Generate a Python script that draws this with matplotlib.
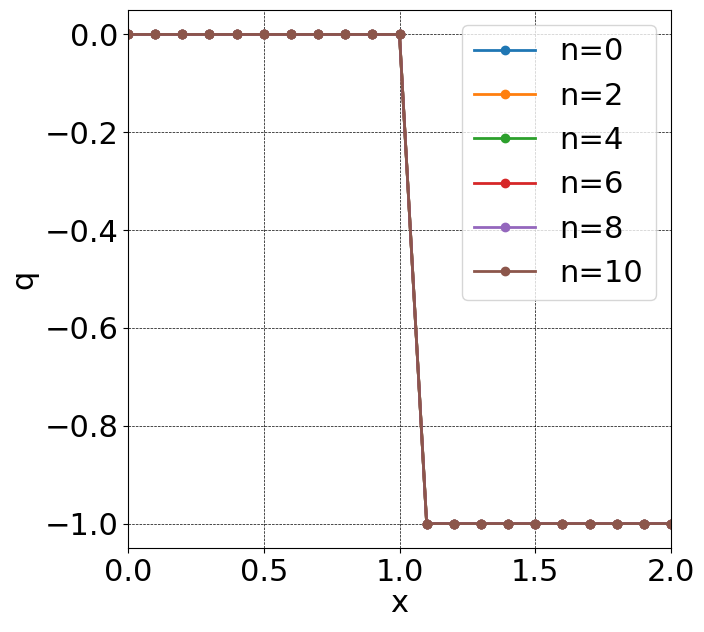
import numpy as np
import matplotlib
matplotlib.use('Agg')
import matplotlib.pyplot as plt

# grid points and solution snapshots (all identical in the picture)
x = [0.0, 0.1, 0.2, 0.3, 0.4, 0.5, 0.6, 0.7, 0.8, 0.9, 1.0,
     1.1, 1.2, 1.3, 1.4, 1.5, 1.6, 1.7, 1.8, 1.9, 2.0]
q_step = [0, 0, 0, 0, 0, 0, 0, 0, 0, 0, 0,
          -1, -1, -1, -1, -1, -1, -1, -1, -1, -1]
steps = [0, 2, 4, 6, 8, 10]
snapshots = [q_step for n in steps]

plt.rcParams['font.size'] = 22

fig = plt.figure(figsize=(7.04, 6.32), dpi=100)
ax = fig.add_axes([128 / 704, 84 / 632, 543 / 704, 538 / 632])

for n, q in zip(steps, snapshots):
    ax.plot(x, q, '-o', lw=2, ms=6, label=f'n={n}')

ax.set_xlim(0, 2)
ax.set_ylim(-1.05, 0.05)
ax.set_xlabel('x', labelpad=2)
ax.set_ylabel('q', labelpad=4)
ax.grid(True, color='black', linestyle='--', linewidth=0.5)
ax.legend(loc='upper right')

fig.savefig('out.png', dpi=100)
